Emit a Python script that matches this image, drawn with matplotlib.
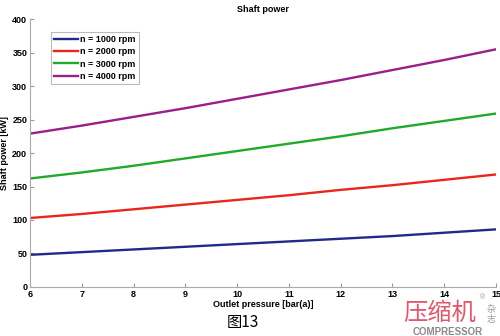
import numpy as np
import matplotlib
matplotlib.use("Agg")
import matplotlib.pyplot as plt

plt.rcParams['font.family'] = ['Liberation Sans', 'Noto Sans CJK SC', 'DejaVu Sans']

pressure = [6, 7, 8, 9, 10, 11, 12, 13, 14, 15]
p_1000 = [48, 52, 56, 60, 64, 68, 72, 76, 81, 86]
p_2000 = [103, 109, 116, 123, 130, 137, 145, 152, 160, 168]
p_3000 = [162, 171, 181, 192, 203, 214, 225, 237, 248, 259]
p_4000 = [229, 241, 254, 267, 281, 295, 309, 324, 339, 355]
labels = ["n = 1000 rpm", "n = 2000 rpm", "n = 3000 rpm", "n = 4000 rpm"]
colors = ["#1f2a8a", "#e8261c", "#1faa2a", "#9a1f8a"]

fig = plt.figure(figsize=(5, 3.36), dpi=100)
ax = fig.add_axes([0.06, 0.146, 0.932, 0.797])

for vals, lab, c in zip([p_1000, p_2000, p_3000, p_4000], labels, colors):
    ax.plot(pressure, vals, color=c, lw=1.7, label=lab)

ax.set_xlim(6, 15)
ax.set_ylim(0, 400)
ax.set_xticks(range(6, 16))
ax.set_yticks(range(0, 401, 50))
for s in ["top", "right"]:
    ax.spines[s].set_visible(False)
for s in ["left", "bottom"]:
    ax.spines[s].set_color("#aaaaaa")
ax.tick_params(direction="in", length=3, color="#999999", labelsize=6.5, pad=2)
for t in ax.get_xticklabels() + ax.get_yticklabels():
    t.set_fontweight("bold")

ax.set_title("Shaft power", fontsize=6.5, fontweight="bold", pad=5)
ax.set_xlabel("Outlet pressure [bar(a)]", fontsize=6.5, fontweight="bold", labelpad=1)
ax.set_ylabel("Shaft power [kW]", fontsize=6.5, fontweight="bold", labelpad=2)

leg = ax.legend(loc="upper left", bbox_to_anchor=(0.035, 0.97),
                prop={"weight": "bold", "size": 6.5}, handlelength=2.6,
                handletextpad=0.2, borderpad=0.4, labelspacing=0.35,
                fancybox=False, edgecolor="#aaaaaa")
leg.get_frame().set_linewidth(0.8)

fig.text(0.485, 0.04, "图13", fontsize=11, ha="center", va="center",
         family=["Noto Sans CJK SC"])
# watermark
fig.text(0.88, 0.068, "压缩机", fontsize=17.5, ha="center", va="center",
         color="#e5566a", fontweight="medium", family=["Noto Sans CJK SC"])
fig.text(0.895, 0.013, "COMPRESSOR", fontsize=7, ha="center", va="center",
         color="#8a8a8a", fontweight="bold")
fig.text(0.983, 0.065, "杂\n志", fontsize=6.5, ha="center", va="center",
         color="#9a9a9a", family=["Noto Sans CJK SC"], linespacing=1.1)
fig.text(0.966, 0.115, "®", fontsize=5, ha="center", va="center", color="#9a9a9a")

fig.savefig("out.png", dpi=100)
